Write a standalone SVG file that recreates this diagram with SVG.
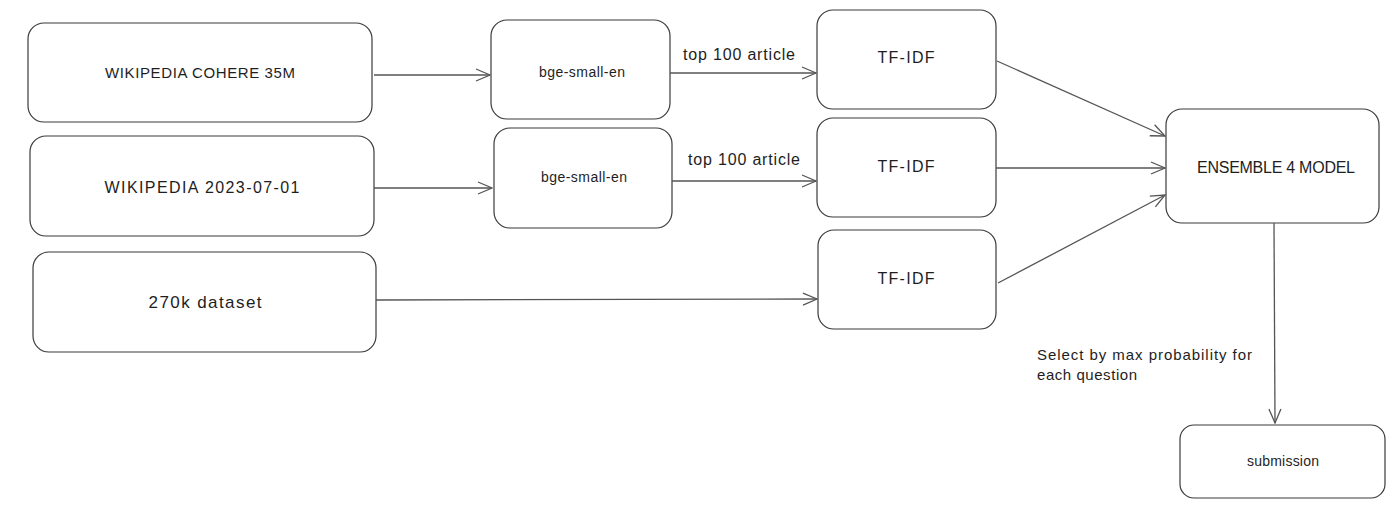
<svg xmlns="http://www.w3.org/2000/svg" width="1400" height="507" viewBox="0 0 1400 507">
<style>
.box{fill:#ffffff;stroke:#3a3a3a;stroke-width:1.2}
.lbl{font-family:"Liberation Sans","DejaVu Sans",sans-serif;fill:#1e1e1e;text-anchor:middle;dominant-baseline:central}
.note{font-family:"Liberation Sans","DejaVu Sans",sans-serif;fill:#1e1e1e}
.edge{fill:none;stroke:#555555;stroke-width:1.3;marker-end:url(#arr)}
</style>
<defs>
<marker id="arr" viewBox="0 0 16 14" refX="15" refY="7" markerWidth="16" markerHeight="14" markerUnits="userSpaceOnUse" orient="auto">
<path d="M1,1 L15,7 L1,13" fill="none" stroke="#555555" stroke-width="1.3"/>
</marker>
</defs>
<rect width="1400" height="507" fill="#ffffff"/>
<g id="n-wiki-cohere">
<rect class="box" x="28" y="23" width="344" height="99" rx="16"/>
<text class="lbl" x="200" y="72" font-size="15" textLength="190">WIKIPEDIA COHERE 35M</text>
</g>
<g id="n-wiki-2023">
<rect class="box" x="30" y="136" width="344" height="100" rx="16"/>
<text class="lbl" x="202" y="187" font-size="16" textLength="195">WIKIPEDIA 2023-07-01</text>
</g>
<g id="n-270k">
<rect class="box" x="33" y="252" width="343" height="100" rx="16"/>
<text class="lbl" x="205" y="302" font-size="17" textLength="113">270k dataset</text>
</g>
<g id="n-bge1">
<rect class="box" x="491" y="20" width="179" height="99" rx="16"/>
<text class="lbl" x="582" y="72" font-size="14" textLength="86">bge-small-en</text>
</g>
<g id="n-bge2">
<rect class="box" x="494" y="128" width="178" height="100" rx="16"/>
<text class="lbl" x="584" y="177" font-size="14" textLength="86">bge-small-en</text>
</g>
<g id="n-tfidf1">
<rect class="box" x="817" y="10" width="179" height="99" rx="16"/>
<text class="lbl" x="906" y="57" font-size="16" textLength="57">TF-IDF</text>
</g>
<g id="n-tfidf2">
<rect class="box" x="817" y="118" width="179" height="99" rx="16"/>
<text class="lbl" x="906" y="166" font-size="16" textLength="57">TF-IDF</text>
</g>
<g id="n-tfidf3">
<rect class="box" x="818" y="230" width="178" height="99" rx="16"/>
<text class="lbl" x="906" y="278" font-size="16" textLength="57">TF-IDF</text>
</g>
<g id="n-ensemble">
<rect class="box" x="1166" y="109" width="213" height="114" rx="16"/>
<text class="lbl" x="1276" y="167" font-size="16" textLength="158">ENSEMBLE 4 MODEL</text>
</g>
<g id="n-submission">
<rect class="box" x="1180" y="425" width="205" height="73" rx="14"/>
<text class="lbl" x="1283" y="461" font-size="14" textLength="72">submission</text>
</g>
<g id="connectors">
<path class="edge" d="M374,75 L490,75"/>
<path class="edge" d="M374,188 L492,188"/>
<path class="edge" d="M376,300 L817,299"/>
<path class="edge" d="M670,73 L816,73"/>
<path class="edge" d="M672,181 L816,181"/>
<path class="edge" d="M997,61 L1165,136"/>
<path class="edge" d="M996,168 L1165,168"/>
<path class="edge" d="M998,283 L1165,195"/>
<path class="edge" d="M1274,223 L1275,423"/>
<text class="note" x="683" y="60" font-size="16" textLength="112">top 100 article</text>
<text class="note" x="688" y="165" font-size="16" textLength="112">top 100 article</text>
<text class="note" x="1037" y="360" font-size="15" textLength="215">Select by max probability for</text>
<text class="note" x="1037" y="380" font-size="15" textLength="100">each question</text>
</g>
</svg>
